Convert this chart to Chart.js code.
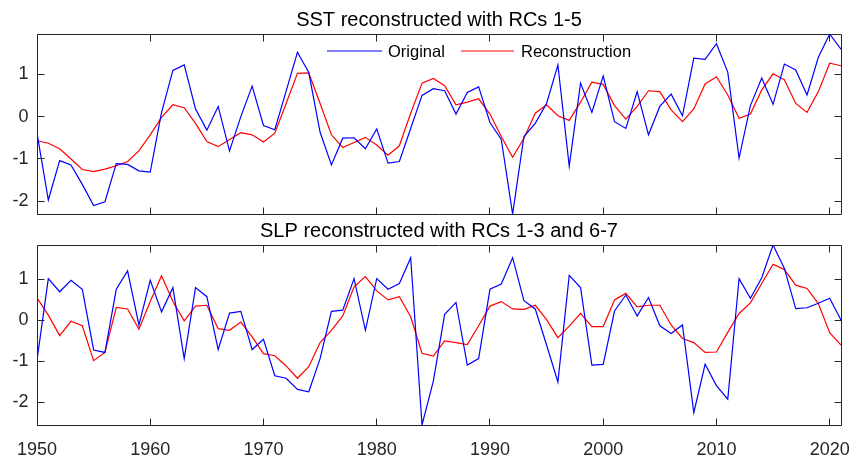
<!DOCTYPE html>
<html>
<head>
<meta charset="utf-8">
<script src="https://cdn.jsdelivr.net/npm/chart.js@4.4.0/dist/chart.umd.min.js"></script>
<style>
  html, body { margin: 0; padding: 0; background: #fff; }
  #wrap { position: relative; width: 849px; height: 455px; overflow: hidden; }
  #wrap canvas { position: absolute; left: 0; }
  #sstChart { top: 0; }
  #slpChart { top: 215px; }
</style>
</head>
<body>
<div id="wrap">
  <canvas id="sstChart" width="849" height="230"></canvas>
  <canvas id="slpChart" width="849" height="240"></canvas>
</div>
<script>
const years = [
  1950, 1951, 1952, 1953, 1954, 1955, 1956, 1957, 1958, 1959,
  1960, 1961, 1962, 1963, 1964, 1965, 1966, 1967, 1968, 1969,
  1970, 1971, 1972, 1973, 1974, 1975, 1976, 1977, 1978, 1979,
  1980, 1981, 1982, 1983, 1984, 1985, 1986, 1987, 1988, 1989,
  1990, 1991, 1992, 1993, 1994, 1995, 1996, 1997, 1998, 1999,
  2000, 2001, 2002, 2003, 2004, 2005, 2006, 2007, 2008, 2009,
  2010, 2011, 2012, 2013, 2014, 2015, 2016, 2017, 2018, 2019,
  2020, 2021
];

const sstOriginal = [
  -0.39, -1.97, -1.04, -1.14, -1.60, -2.10, -2.01, -1.11, -1.13, -1.28,
  -1.31, 0.10, 1.09, 1.22, 0.18, -0.32, 0.24, -0.81, 0.00, 0.72,
  -0.21, -0.31, 0.60, 1.52, 1.04, -0.37, -1.14, -0.51, -0.50, -0.76,
  -0.29, -1.10, -1.06, -0.28, 0.50, 0.66, 0.61, 0.06, 0.57, 0.70,
  -0.14, -0.54, -2.30, -0.47, -0.16, 0.31, 1.22, -1.17, 0.79, 0.10,
  0.96, -0.12, -0.28, 0.59, -0.43, 0.24, 0.53, 0.02, 1.38, 1.35,
  1.72, 1.05, -0.98, 0.26, 0.91, 0.29, 1.24, 1.10, 0.51, 1.40,
  1.95, 1.59
];
const sstRecon = [
  -0.57, -0.63, -0.76, -1.00, -1.25, -1.30, -1.24, -1.16, -1.06, -0.81,
  -0.43, -0.02, 0.28, 0.21, -0.16, -0.59, -0.71, -0.54, -0.38, -0.43,
  -0.60, -0.39, 0.31, 1.02, 1.03, 0.31, -0.43, -0.73, -0.61, -0.49,
  -0.67, -0.91, -0.69, 0.08, 0.79, 0.90, 0.73, 0.28, 0.34, 0.42,
  0.06, -0.47, -0.96, -0.51, 0.08, 0.28, 0.02, -0.09, 0.34, 0.81,
  0.76, 0.26, -0.06, 0.24, 0.61, 0.59, 0.16, -0.12, 0.18, 0.77,
  0.94, 0.51, -0.04, 0.06, 0.63, 1.01, 0.87, 0.31, 0.10, 0.59,
  1.26, 1.20
];

const slpOriginal = [
  -0.97, 1.02, 0.70, 0.98, 0.76, -0.72, -0.78, 0.76, 1.21, -0.11,
  0.98, 0.21, 0.80, -0.93, 0.80, 0.58, -0.71, 0.18, 0.22, -0.71,
  -0.46, -1.35, -1.41, -1.68, -1.74, -0.93, 0.22, 0.25, 1.02, -0.24,
  1.02, 0.76, 0.90, 1.53, -2.55, -1.48, 0.15, 0.44, -1.09, -0.93,
  0.76, 0.89, 1.53, 0.48, 0.28, -0.60, -1.50, 1.10, 0.80, -1.09,
  -1.07, 0.23, 0.62, 0.11, 0.56, -0.13, -0.32, -0.11, -2.25, -1.07,
  -1.59, -1.92, 1.02, 0.54, 1.04, 1.84, 1.27, 0.29, 0.31, 0.42,
  0.54, 0.01
];
const slpRecon = [
  0.55, 0.13, -0.37, -0.02, -0.13, -0.98, -0.78, 0.32, 0.28, -0.21,
  0.46, 1.09, 0.46, -0.01, 0.35, 0.37, -0.20, -0.24, -0.04, -0.40,
  -0.81, -0.86, -1.11, -1.41, -1.13, -0.54, -0.24, 0.11, 0.82, 1.07,
  0.72, 0.50, 0.58, 0.09, -0.80, -0.87, -0.50, -0.54, -0.59, -0.13,
  0.35, 0.46, 0.28, 0.27, 0.37, 0.02, -0.42, -0.14, 0.17, -0.15,
  -0.15, 0.50, 0.66, 0.33, 0.37, 0.37, -0.11, -0.44, -0.54, -0.78,
  -0.77, -0.29, 0.17, 0.43, 0.90, 1.37, 1.24, 0.86, 0.78, 0.41,
  -0.30, -0.60
];

const xTicks = [1950, 1960, 1970, 1980, 1990, 2000, 2010, 2020];
const sstYTicks = [-2, -1, 0, 1];
const slpYTicks = [-2, -1, 0, 1];
const seriesNames = ['Original', 'Reconstruction'];

const axisColor = '#262626';
const fontFamily = '"Liberation Sans", Arial, Helvetica, sans-serif';
Chart.defaults.font.family = fontFamily;
Chart.defaults.color = axisColor;

const toPoints = vals => vals.map((v, i) => ({ x: years[i], y: v }));
const crisp = v => Math.floor(v) + 0.5;

// box around the plot with short inward ticks on all four sides
const frameTicks = {
  id: 'frameTicks',
  afterDatasetsDraw(chart) {
    const { ctx, chartArea: a, scales } = chart;
    const len = 7;
    const l = crisp(a.left), r = crisp(a.right), t = crisp(a.top), b = crisp(a.bottom);
    ctx.save();
    ctx.strokeStyle = axisColor;
    ctx.lineWidth = 1;
    ctx.beginPath();
    ctx.rect(l, t, r - l, b - t);
    scales.x.ticks.forEach(tk => {
      const x = crisp(scales.x.getPixelForValue(tk.value));
      ctx.moveTo(x, b); ctx.lineTo(x, b - len);
      ctx.moveTo(x, t); ctx.lineTo(x, t + len);
    });
    scales.y.ticks.forEach(tk => {
      const y = crisp(scales.y.getPixelForValue(tk.value));
      ctx.moveTo(l, y); ctx.lineTo(l + len, y);
      ctx.moveTo(r, y); ctx.lineTo(r - len, y);
    });
    ctx.stroke();
    ctx.restore();
  }
};

// legend without a box, laid out in one row inside the top plot
const inlineLegend = {
  id: 'inlineLegend',
  afterDraw(chart) {
    const { ctx } = chart;
    const items = [
      { x0: 327, x1: 382, tx: 388 },
      { x0: 461, x1: 514, tx: 521 }
    ];
    const y = 51;
    ctx.save();
    ctx.font = '16.5px ' + fontFamily;
    ctx.textBaseline = 'middle';
    ctx.textAlign = 'left';
    chart.data.datasets.forEach((ds, i) => {
      const it = items[i];
      ctx.strokeStyle = ds.borderColor;
      ctx.lineWidth = 1.2;
      ctx.beginPath();
      ctx.moveTo(it.x0, y);
      ctx.lineTo(it.x1, y);
      ctx.stroke();
      ctx.fillStyle = '#000';
      ctx.fillText(ds.label, it.tx, y + 1);
    });
    ctx.restore();
  }
};

function makePanel(canvasId, title, original, recon, yTicks, opts) {
  const lo = Math.min(...original, ...recon);
  const hi = Math.max(...original, ...recon);
  return new Chart(document.getElementById(canvasId), {
    type: 'line',
    data: {
      datasets: [
        { label: seriesNames[0], data: toPoints(original), borderColor: '#0000ff', borderWidth: 1.2, pointRadius: 0, tension: 0 },
        { label: seriesNames[1], data: toPoints(recon), borderColor: '#ff0000', borderWidth: 1.2, pointRadius: 0, tension: 0 }
      ]
    },
    options: {
      responsive: false,
      animation: false,
      events: [],
      layout: { padding: { left: 0, right: 8, top: 0, bottom: 0 } },
      plugins: {
        legend: { display: false },
        tooltip: { enabled: false },
        title: {
          display: true,
          text: title,
          fullSize: false,
          color: '#000',
          font: { size: 20, weight: 'normal', lineHeight: 1.2 },
          padding: opts.titlePadding
        }
      },
      scales: {
        x: {
          type: 'linear',
          min: years[0],
          max: years[years.length - 1],
          grid: { display: false, drawTicks: false },
          border: { display: false },
          afterBuildTicks: s => { s.ticks = xTicks.map(v => ({ value: v })); },
          afterFit: s => {
            s.height = opts.xHeight;
            s.paddingLeft = 0;
            s.paddingRight = 0;
          },
          ticks: {
            display: opts.showXLabels,
            autoSkip: false,
            maxRotation: 0,
            padding: 14,
            color: axisColor,
            font: { size: 18 },
            callback: v => String(v)
          }
        },
        y: {
          min: lo,
          max: hi,
          grid: { display: false, drawTicks: false },
          border: { display: false },
          afterBuildTicks: s => { s.ticks = yTicks.map(v => ({ value: v })); },
          afterFit: s => {
            s.width = 37;
            s.paddingTop = 0;
            s.paddingBottom = 0;
          },
          ticks: {
            padding: 8.5,
            color: axisColor,
            font: { size: 18 },
            callback: v => String(v)
          }
        }
      }
    },
    plugins: opts.legend ? [frameTicks, inlineLegend] : [frameTicks]
  });
}

const sstChart = makePanel('sstChart', 'SST reconstructed with RCs 1-5', sstOriginal, sstRecon, sstYTicks, {
  titlePadding: { top: 8, bottom: 2 },
  xHeight: 16,
  showXLabels: false,
  legend: true
});

const slpChart = makePanel('slpChart', 'SLP reconstructed with RCs 1-3 and 6-7', slpOriginal, slpRecon, slpYTicks, {
  titlePadding: { top: 4, bottom: 2 },
  xHeight: 30,
  showXLabels: true,
  legend: false
});
</script>
</body>
</html>
